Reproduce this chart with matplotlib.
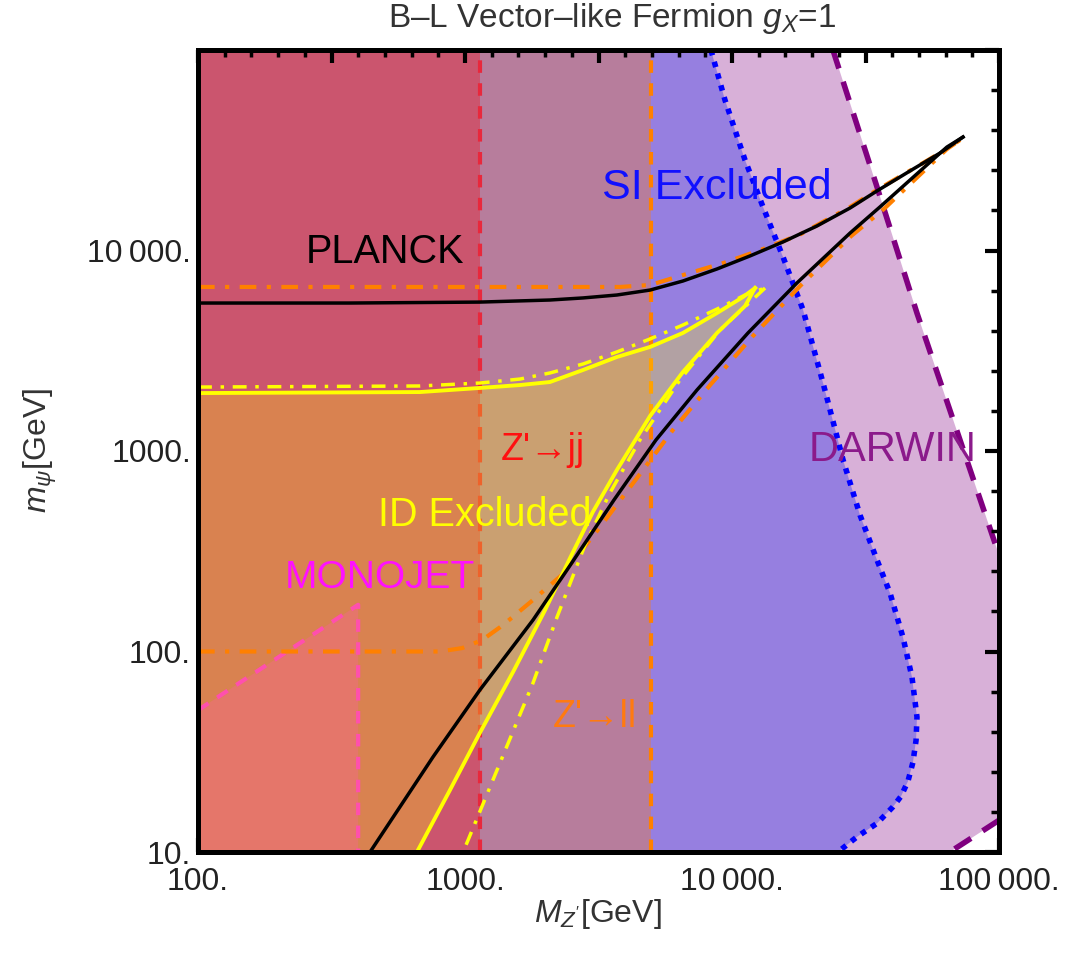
import numpy as np
import matplotlib
matplotlib.use("Agg")
import matplotlib.pyplot as plt
from matplotlib.ticker import MultipleLocator, NullLocator, FixedLocator

plt.rcParams['font.family'] = ['Liberation Sans', 'DejaVu Sans']
plt.rcParams['mathtext.fontset'] = 'custom'
plt.rcParams['mathtext.rm'] = 'Liberation Sans'
plt.rcParams['mathtext.it'] = 'Liberation Sans:italic'

# ---- data (GeV) ----------------------------------------------------------
# relic density (PLANCK) contour
planck_up_mz = [100, 370, 1137, 2080, 2767, 3706, 4935, 6550, 8790, 11670, 15520, 20800,
                27680, 34920, 46450, 60160, 73300]
planck_up_mx = [5470, 5470, 5530, 5663, 5800, 5998, 6350, 7045, 8090, 9390, 11030, 13250,
                16290, 19820, 24950, 30630, 36800]
planck_lo_mz = [73300, 63800, 35800, 27680, 17510, 11480, 7390, 5190, 3614, 2410, 1798,
                1137, 759, 441]
planck_lo_mx = [36800, 32800, 16480, 12220, 6890, 3880, 2014, 1135, 570, 255, 143.6,
                64.3, 29.8, 10]

# indirect detection excluded region (solid) and second curve (dot-dashed)
id_up_mz = [100, 678, 1137, 1607, 2080, 2767, 3706, 4935, 6550, 8790, 10990, 12200]
id_up_mx = [1945, 1968, 2063, 2133, 2208, 2536, 2944, 3304, 3880, 4880, 5860, 6500]
id_lo_mz = [12200, 11190, 8790, 6550, 4935, 3706, 3013, 2473, 1995, 1514, 1137, 879, 661]
id_lo_mx = [6500, 5285, 3880, 2478, 1496, 804, 497, 292, 161, 79.1, 39.3, 20.4, 10]
idd_up_mz = [100, 678, 1137, 1607, 2080, 2767, 3706, 4935, 6550, 8790, 11190, 13300]
idd_up_mx = [2084, 2110, 2183, 2285, 2450, 2716, 3119, 3622, 4250, 5105, 5998, 6500]
idd_lo_mz = [13300, 9010, 6380, 4520, 3490, 2815, 2212, 1798, 1352, 984]
idd_lo_mx = [6500, 4010, 2260, 1135, 618, 340, 148.6, 69.7, 27.8, 10]

# Z' -> ll curves
zll_a_mz = [100, 3810, 4935, 6970, 9570, 13060, 17980, 27680, 34920, 60160, 71450]
zll_a_mx = [6580, 6580, 6730, 7730, 8770, 10170, 12020, 16480, 20040, 30630, 35560]
zll_b_mz = [100, 806, 975, 1159, 1388, 1798, 2307, 3040, 4405, 6010, 8280, 11890,
            17980, 27920, 37070, 63800, 71450]
zll_b_mx = [100, 100, 104, 114, 135.5, 180.7, 241, 381, 733, 1274, 2133, 3706,
            6650, 11800, 16110, 32060, 35560]
zll_limit = 4980
zjj_limit = 1137

# monojet
mono_mz = [100, 398, 398]
mono_mx = [51, 171, 10]

# spin-independent direct detection
si_mz = [8340, 9410, 11190, 13070, 15530, 18460, 21930, 26060, 30160, 34920, 39060, 43670,
         47210, 49300, 48900, 47600, 45590, 43000, 40080, 34920, 29380, 24940]
si_mx = [100000, 56360, 28250, 16480, 9280, 5050, 2183, 902, 479, 286, 196, 118,
         74.6, 47.1, 36.0, 28.0, 22.5, 19.0, 16.8, 13.9, 11.9, 10]

# DARWIN projection
dw_top_mz = [23880, 34920, 49300, 100000]
dw_top_mx = [100000, 20750, 4870, 303]
dw_bot_mz = [100000, 65440]
dw_bot_mx = [14.4, 10]

xticks = [100, 1000, 10000, 100000]
xlabels = ['100.', '1000.', '10\u2009000.', '100\u2009000.']
yticks = [10, 100, 1000, 10000]
ylabels = ['10.', '100.', '1000.', '10\u2009000.']

xmin, xmax, ymin, ymax = 100, 100000, 10, 100000

# ---- figure --------------------------------------------------------------
fig = plt.figure(figsize=(10.68, 9.58), dpi=100)
ax = fig.add_axes([198/1068, 106/958, 801/1068, 802/958])
ax.set_xscale('log')
ax.set_yscale('log')
ax.set_xlim(xmin, xmax)
ax.set_ylim(ymin, ymax)

# DARWIN region
dx = [xmin] + dw_top_mz + dw_bot_mz + [xmin]
dy = [ymax] + dw_top_mx + dw_bot_mx + [ymin]
ax.fill(dx, dy, color='#D8B0D8', lw=0, zorder=1)
# SI region
ax.fill([xmin] + si_mz + [xmin], [ymax] + si_mx + [ymin], color='#967FE0', lw=0, zorder=2)
# Z'->ll and Z'->jj
ax.fill_between([xmin, zll_limit], ymin, ymax, color='#B77D9C', lw=0, zorder=3)
ax.fill_between([xmin, zjj_limit], ymin, ymax, color='#CB556E', lw=0, zorder=4)

ax.plot([zjj_limit, zjj_limit], [ymin, ymax], color='#E8283C', lw=3, ls=(0, (3, 2.5)), zorder=5)
ax.plot([zll_limit, zll_limit], [ymin, ymax], color='#FF8000', lw=3, ls=(0, (3, 2.5)), zorder=5)

# ID excluded (translucent yellow)
ix = id_up_mz + id_lo_mz[1:] + [xmin]
iy = id_up_mx + id_lo_mx[1:] + [ymin]
ax.fill(ix, iy, color='#FFFF00', alpha=0.27, lw=0, zorder=6)

# monojet region
ax.fill([xmin] + mono_mz, [ymin] + mono_mx, color='#E5766A', lw=0, zorder=7)
ax.plot(mono_mz, mono_mx, color='#FF4FAE', lw=3, ls=(0, (3, 2.5)), zorder=8)

# boundary lines
ax.plot(si_mz, si_mx, color='#0000FF', lw=4, ls=(0, (1, 1.2)), zorder=8)
ax.plot(dw_top_mz, dw_top_mx, color='#800080', lw=4, ls=(0, (3.5, 2.5)), zorder=8)
ax.plot(dw_bot_mz, dw_bot_mx, color='#800080', lw=4, ls=(0, (3.5, 2.5)), zorder=8)

ax.plot(zll_a_mz, zll_a_mx, color='#FF8000', lw=3, ls=(0, (4, 2.5, 1, 2.5)), zorder=9)
ax.plot(zll_b_mz, zll_b_mx, color='#FF8000', lw=3, ls=(0, (4, 2.5, 1, 2.5)), zorder=9)

ax.plot(idd_up_mz, idd_up_mx, color='#FFFF00', lw=2.5, ls=(0, (4, 2.5, 1, 2.5)), zorder=10)
ax.plot(idd_lo_mz, idd_lo_mx, color='#FFFF00', lw=2.5, ls=(0, (4, 2.5, 1, 2.5)), zorder=10)
ax.plot(id_up_mz, id_up_mx, color='#FFFF00', lw=2.8, zorder=11)
ax.plot(id_lo_mz, id_lo_mx, color='#FFFF00', lw=2.8, zorder=11)

ax.plot(planck_up_mz, planck_up_mx, color='black', lw=2.5, zorder=12)
ax.plot(planck_lo_mz, planck_lo_mx, color='black', lw=2.5, zorder=12)

# labels inside the plot
fs = 28.5
ax.text(501, 9840, 'PLANCK', color='black', fontsize=fs, ha='center', va='center', zorder=13)
ax.text(8790, 20500, 'SI Excluded', color='#1010FF', fontsize=31, ha='center', va='center', zorder=13)
ax.text(1960, 1010, "Z'\u2192jj", color='#FF1010', fontsize=27, ha='center', va='center', zorder=13)
ax.text(40100, 1010, 'DARWIN', color='#8B1A8B', fontsize=30, ha='center', va='center', zorder=13)
ax.text(1189, 480, 'ID Excluded', color='#FFFF00', fontsize=fs, ha='center', va='center', zorder=13)
ax.text(481, 233, 'MONOJET', color='#FF10FF', fontsize=28, ha='center', va='center', zorder=13)
ax.text(3068, 47.1, "Z'\u2192ll", color='#FF7A10', fontsize=27, ha='center', va='center', zorder=13)

# ticks
ax.xaxis.set_major_locator(FixedLocator(xticks))
ax.set_xticklabels(xlabels)
ax.yaxis.set_major_locator(FixedLocator(yticks))
ax.set_yticklabels(ylabels)
ax.xaxis.set_minor_locator(NullLocator())
ax.yaxis.set_minor_locator(NullLocator())
ax.tick_params(which='major', direction='in', length=10, width=3, labelsize=23,
               top=False, right=False, colors='black')
ax.tick_params(axis='x', pad=11)
ax.tick_params(axis='y', pad=5)
for lab in ax.get_xticklabels() + ax.get_yticklabels():
    lab.set_color('#222222')
# lowest y label sits on its baseline so it clears the first x label
ax.get_yticklabels()[0].set_va('center_baseline')

axt = ax.twiny()
axt.set_xlim(2, 5)
axt.xaxis.set_major_locator(MultipleLocator(0.5))
axt.xaxis.set_minor_locator(MultipleLocator(0.1))
axt.tick_params(axis='x', which='major', direction='in', length=9, width=3, labeltop=False)
axt.tick_params(axis='x', which='minor', direction='in', length=5, width=2.5)
axr = ax.twinx()
axr.set_ylim(1, 5)
axr.yaxis.set_major_locator(MultipleLocator(1))
axr.yaxis.set_minor_locator(MultipleLocator(0.2))
axr.tick_params(axis='y', which='major', direction='in', length=10, width=3, labelright=False)
axr.tick_params(axis='y', which='minor', direction='in', length=6, width=2.5)

for a in (ax, axt, axr):
    for s in a.spines.values():
        s.set_linewidth(3.5)
        s.set_zorder(20)

fig.text(612/1068, 1 - 19/958, 'B\u2013L Vector\u2013like Fermion $g_X$=1', fontsize=24,
         color='#333333', ha='center', va='center')
fig.text(598/1068, 1 - 914/958, "$M_{Z'}$[GeV]", fontsize=23, color='#333333',
         ha='center', va='center')
fig.text(40/1068, 1 - 450/958, r'$m_\psi$[GeV]', fontsize=23, color='#333333',
         ha='center', va='center', rotation=90)

fig.savefig('out.png', dpi=100)
